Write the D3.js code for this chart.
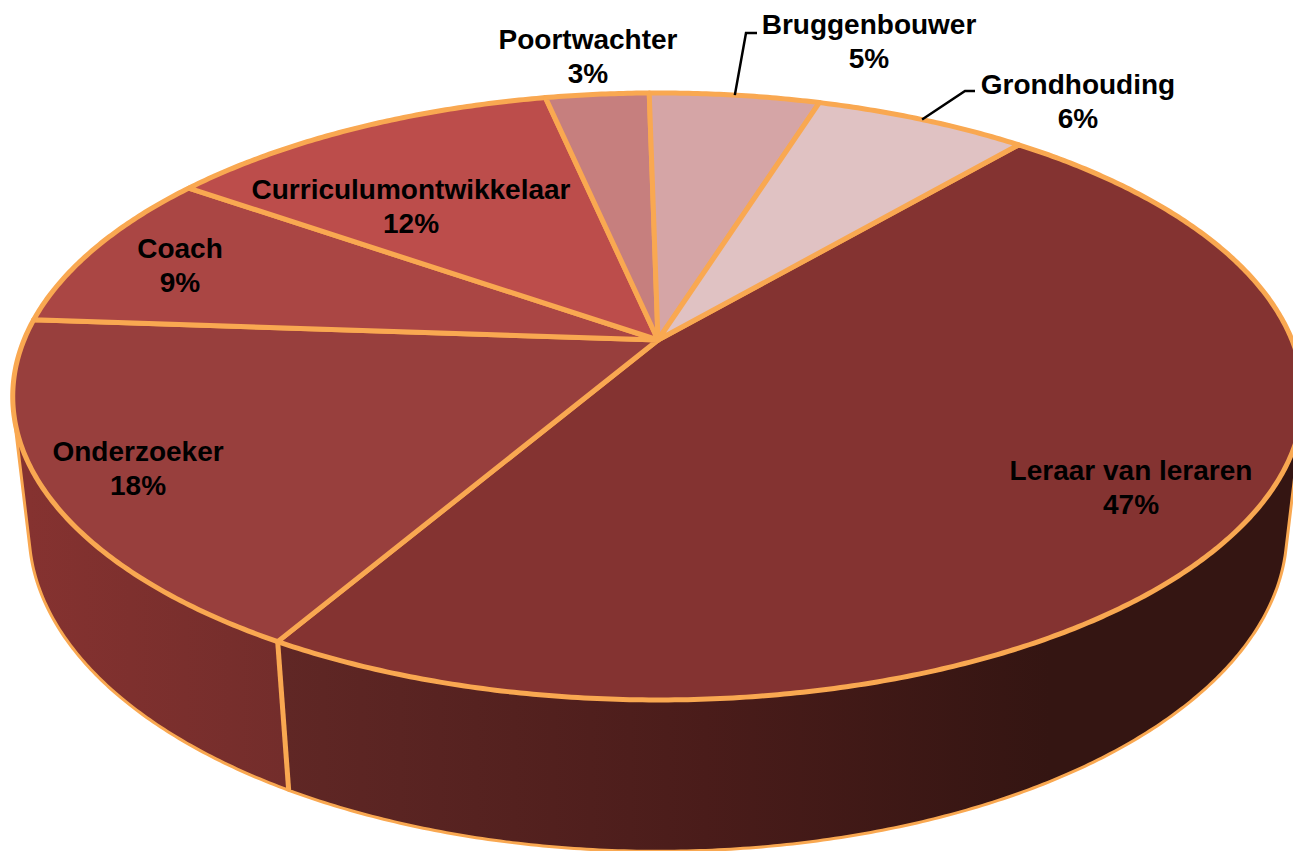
<!DOCTYPE html>
<html lang="nl">
<head>
    <meta charset="UTF-8">
    <title>Rollen lerarenopleider</title>
    <script src="https://cdnjs.cloudflare.com/ajax/libs/d3/7.8.5/d3.min.js"></script>
    <style>
        html, body { margin: 0; padding: 0; background: #fff; overflow: hidden; }
        svg { display: block; }
        text { font-family: "Liberation Sans", Arial, sans-serif; font-weight: bold; fill: #000; text-anchor: middle; }
    </style>
</head>
<body>
    <div id="chart"></div>

    <script>
        // Data, clockwise from the Leraar van leraren slice
        const roles = ['Leraar van leraren', 'Onderzoeker', 'Coach', 'Curriculumontwikkelaar', 'Poortwachter', 'Bruggenbouwer', 'Grondhouding'];
        const shares = [47.1, 17.7, 8.6, 11.9, 3.1, 5.1, 6.4];
        const topColors = ['#843331', '#983f3d', '#aa4644', '#bc4d4b', '#c67f7e', '#d5a5a6', '#e0c2c3'];

        // Label layout: centre x, baseline y of the first line
        const labelPlace = {
            'Leraar van leraren': [1131, 480],
            'Onderzoeker': [138, 461],
            'Coach': [180, 258],
            'Curriculumontwikkelaar': [411, 199],
            'Poortwachter': [588, 49],
            'Bruggenbouwer': [869, 34],
            'Grondhouding': [1078, 94]
        };
        // Leader lines: elbow points, the start sits on the rim at the slice middle
        const leaders = {
            'Bruggenbouwer': [[746, 33], [757, 33]],
            'Grondhouding': [[965, 91], [975, 91]]
        };

        const width = 1293, height = 851;
        const edgeColor = '#f9a851';
        const lineHeight = 34;

        // Perspective camera: unit disc (u right, v to viewer), z is depth of the wall
        const cam = { x: 658, y: 340, c: 634, a: 293, b: -0.186, d: 0.025, e: 136 };

        function project(theta, r, z) {
            const u = r * Math.sin(theta);
            const v = -r * Math.cos(theta);
            const w = 1 + cam.b * v + cam.d * z;
            return [cam.x + cam.c * u / w, cam.y + (cam.a * v + cam.e * z) / w];
        }

        // Angles where the wall turns away from the viewer
        const eyeZ = 1 / (cam.b * cam.e / cam.a - cam.d);
        const eyeV = -cam.e * eyeZ / cam.a;
        const sideAngle = Math.acos(-1 / eyeV);
        const wallFrom = sideAngle;
        const wallTo = 2 * Math.PI - sideAngle;

        const start = 40.5 * Math.PI / 180;
        const pie = d3.pie().sort(null).startAngle(start).endAngle(start + 2 * Math.PI);
        const slices = pie(shares).map((d, i) => ({ ...d, role: roles[i], color: topColors[i] }));

        const line = d3.line();

        function arcPoints(a0, a1, z) {
            const n = Math.max(2, Math.ceil((a1 - a0) * 120));
            return d3.range(n + 1).map(k => project(a0 + (a1 - a0) * k / n, 1, z));
        }

        const svg = d3.select('#chart').append('svg')
            .attr('width', width)
            .attr('height', height);

        // Wall gradients
        const defs = svg.append('defs');
        const wallGradients = [
            { id: 'wall0', x1: 285, x2: 1050, stops: [[0, '#602725'], [0.55, '#4a1c1a'], [1, '#341512']] },
            { id: 'wall1', x1: 30, x2: 285, stops: [[0, '#853230'], [1, '#732d2b']] }
        ];
        wallGradients.forEach(g => {
            const grad = defs.append('linearGradient')
                .attr('id', g.id)
                .attr('gradientUnits', 'userSpaceOnUse')
                .attr('x1', g.x1).attr('x2', g.x2)
                .attr('y1', 0).attr('y2', 0);
            g.stops.forEach(s => grad.append('stop').attr('offset', s[0]).attr('stop-color', s[1]));
        });

        // Walls, only the part turned to the viewer
        const visibleWalls = slices.filter(d => d.startAngle < wallTo && d.endAngle > wallFrom);
        svg.append('g').selectAll('path')
            .data(visibleWalls)
            .enter().append('path')
            .attr('d', d => {
                const a0 = Math.max(d.startAngle, wallFrom);
                const a1 = Math.min(d.endAngle, wallTo);
                return line(arcPoints(a0, a1, 0).concat(arcPoints(a0, a1, 1).reverse())) + 'Z';
            })
            .attr('fill', (d, i) => `url(#wall${i})`)
            .attr('stroke', edgeColor)
            .attr('stroke-width', 3)
            .attr('stroke-linejoin', 'round');

        // Vertical edge between two walls is drawn heavier than the outline
        svg.append('g').selectAll('path')
            .data(visibleWalls.filter(d => d.endAngle < wallTo))
            .enter().append('path')
            .attr('d', d => line([project(d.endAngle, 1, 0), project(d.endAngle, 1, 1)]))
            .attr('stroke', edgeColor)
            .attr('stroke-width', 5);

        // Top face
        svg.append('g').selectAll('path')
            .data(slices)
            .enter().append('path')
            .attr('d', d => line([project(0, 0, 0)].concat(arcPoints(d.startAngle, d.endAngle, 0))) + 'Z')
            .attr('fill', d => d.color)
            .attr('stroke', edgeColor)
            .attr('stroke-width', 5)
            .attr('stroke-linejoin', 'round');

        // Leader lines
        svg.append('g').selectAll('path')
            .data(slices.filter(d => leaders[d.role]))
            .enter().append('path')
            .attr('d', d => line([project((d.startAngle + d.endAngle) / 2, 1, 0)].concat(leaders[d.role])))
            .attr('fill', 'none')
            .attr('stroke', '#000')
            .attr('stroke-width', 2.5);

        // Labels
        const percent = d3.format('.0f');
        const labels = svg.append('g').selectAll('text')
            .data(slices)
            .enter().append('text')
            .attr('transform', d => `translate(${labelPlace[d.role][0]},${labelPlace[d.role][1]})`)
            .style('font-size', '28px');
        labels.append('tspan')
            .attr('x', 0)
            .attr('y', 0)
            .text(d => d.role);
        labels.append('tspan')
            .attr('x', 0)
            .attr('y', lineHeight)
            .text(d => percent(d.value) + '%');
    </script>
</body>
</html>
